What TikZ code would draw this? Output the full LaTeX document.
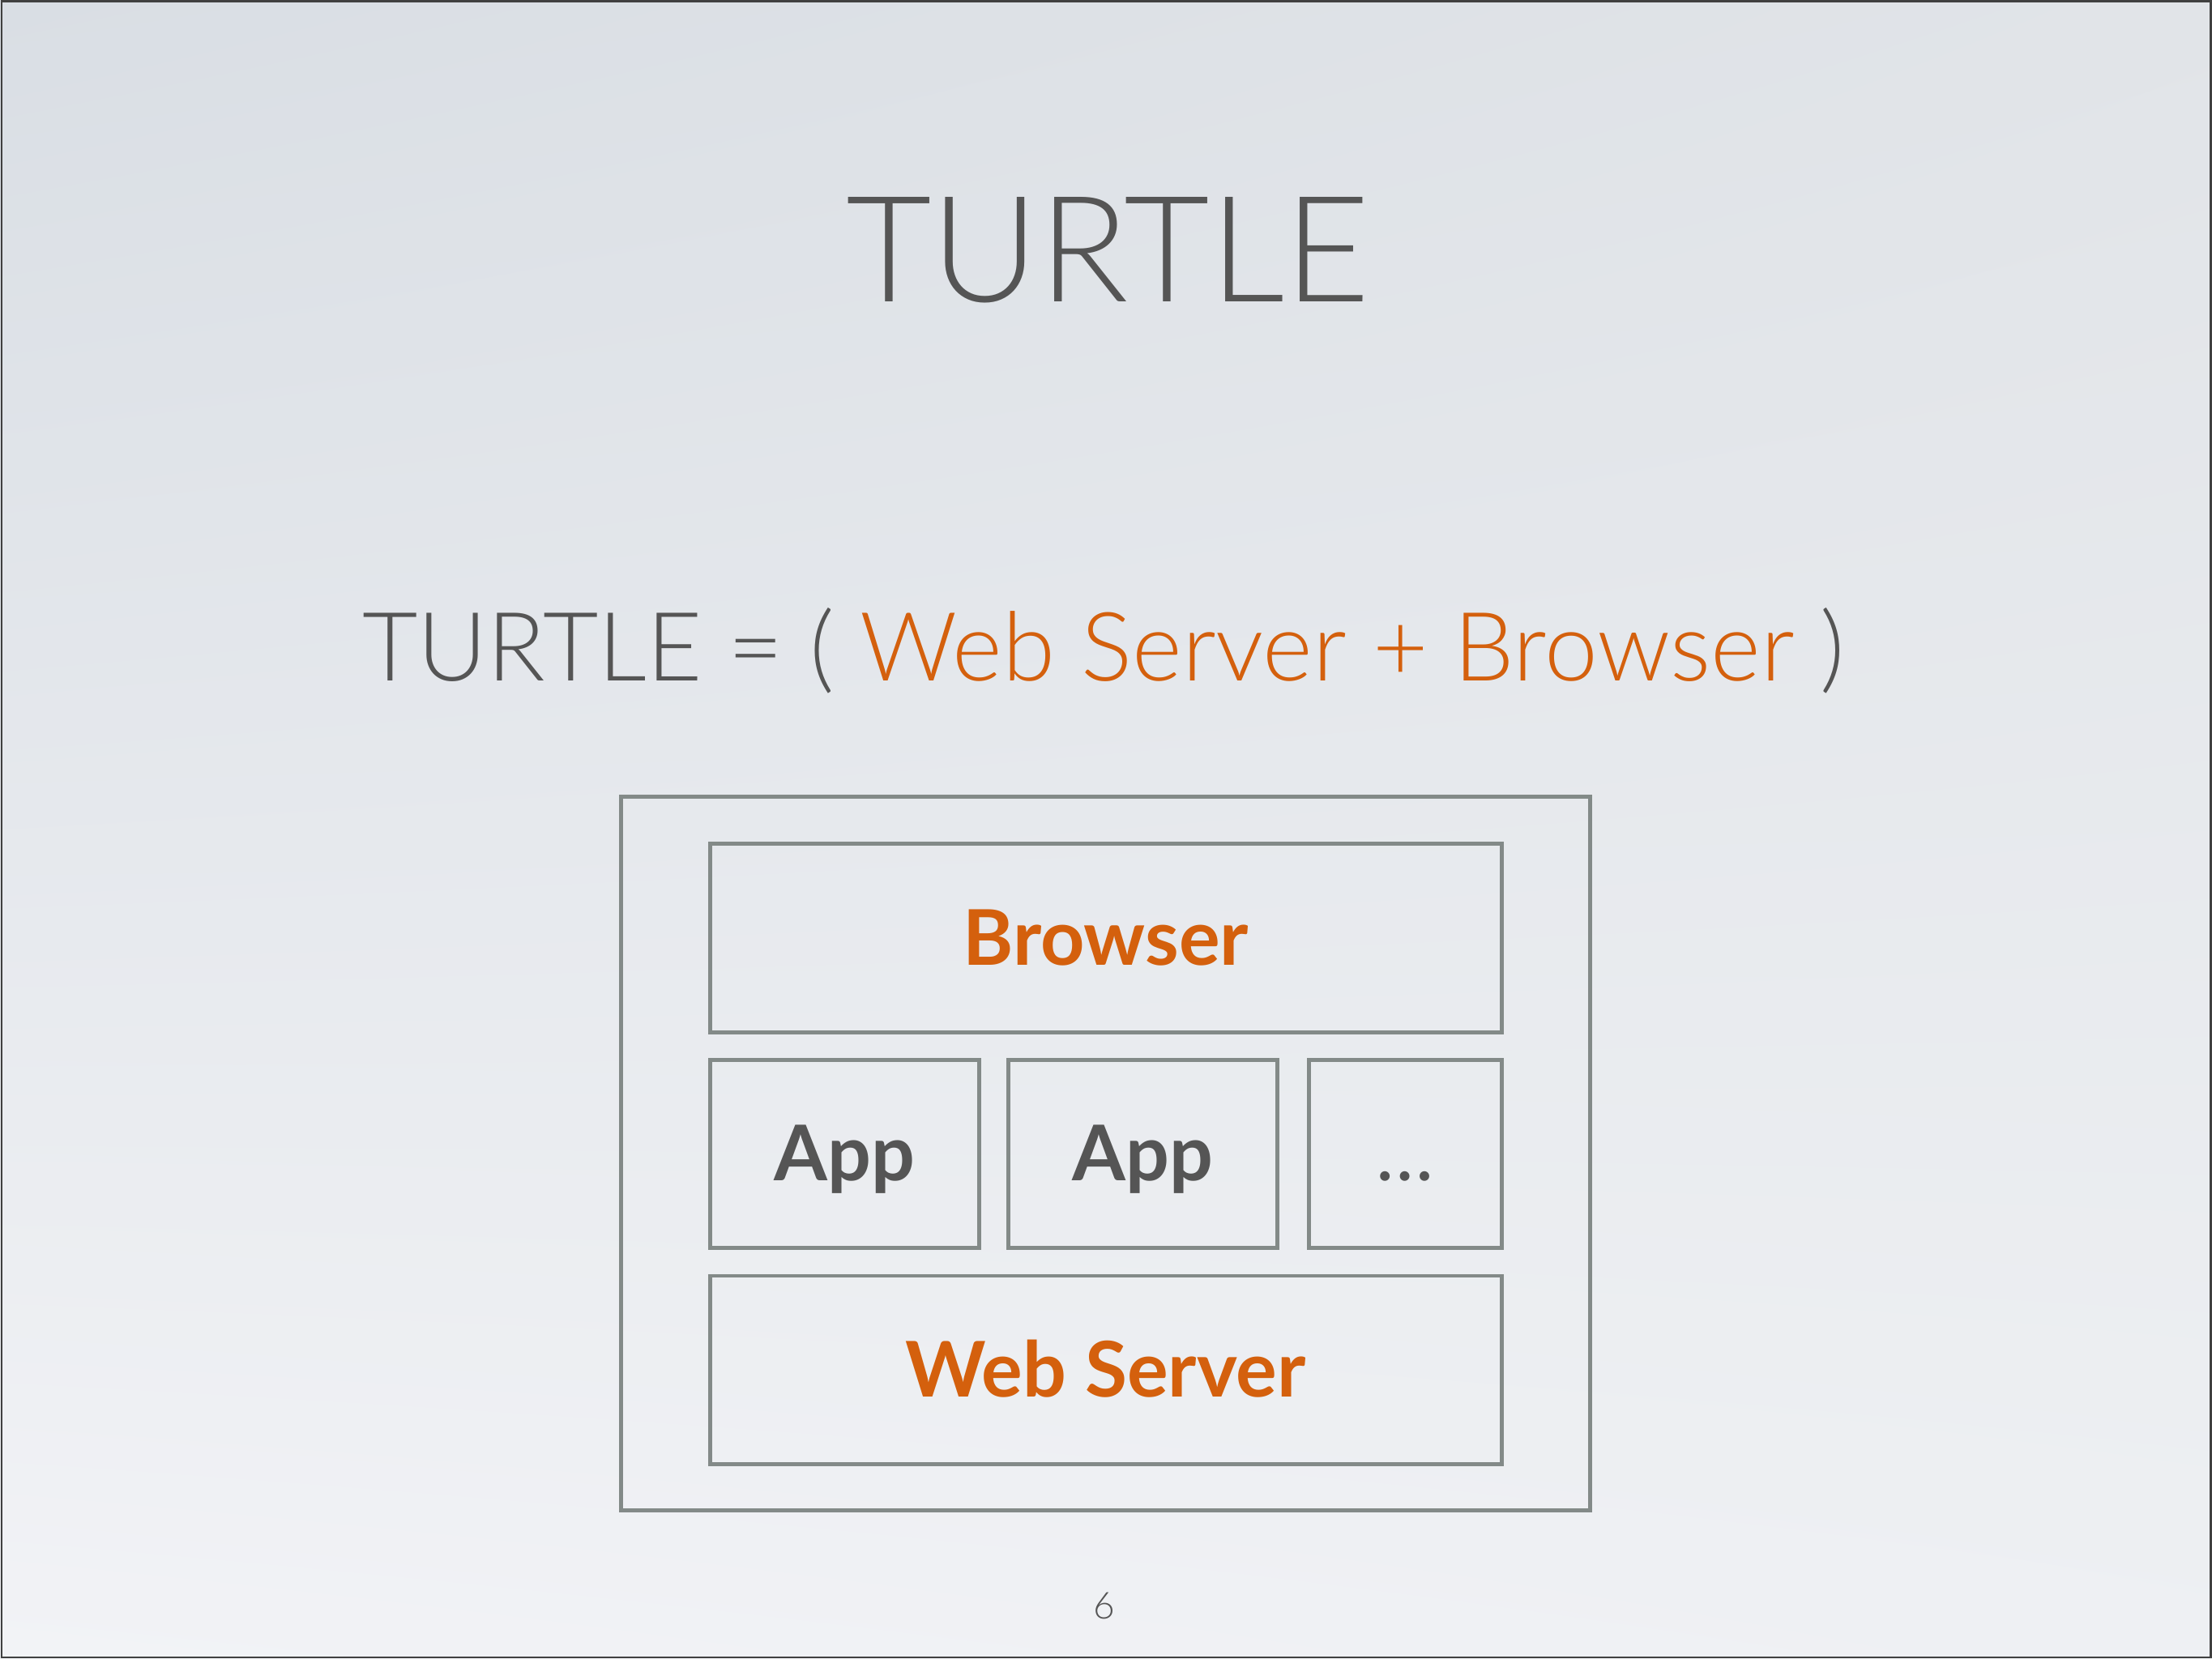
\documentclass[tikz,border=0pt]{standalone}
\usepackage{fontspec}
\setmainfont{Lato}
\newfontfamily\lightfont{Lato Light}
\usepackage{tikz}
\usetikzlibrary{shadings}
\definecolor{txtgray}{HTML}{555555}
\definecolor{orng}{HTML}{D4600D}
\definecolor{boxgray}{HTML}{838A88}
\definecolor{bgul}{RGB}{217,222,228}
\definecolor{bgur}{RGB}{225,228,232}
\definecolor{bgll}{RGB}{242,243,246}
\definecolor{bglr}{RGB}{238,240,243}
\begin{document}
\begin{tikzpicture}[layer/.style={draw=boxgray,line width=0.8pt,minimum height=1.335cm,inner sep=0pt,text depth=0pt,text height=0.38cm,font=\fontsize{15.5}{18}\selectfont\bfseries},label/.style={anchor=base,inner sep=0pt,text=txtgray}]
\useasboundingbox (0,0) rectangle (15.68,11.76);
\shade[upper left=bgul,upper right=bgur,lower left=bgll,lower right=bglr] (0,0) rectangle (15.68,11.76);
\draw[line width=0.4pt,black!75] (0.01,0.01) rectangle (15.67,11.75);
\node (tt) at (7.855,9.62)[label,font=\lightfont\fontsize{29.8}{36}\selectfont] {TURTLE};
\node (eq) at (7.825,6.935)[label,font=\lightfont\fontsize{19.3}{24}\selectfont] {TURTLE = ( \textcolor{orng}{Web Server + Browser} )};
\node (box) at (7.835,3.58)[draw=boxgray,line width=0.8pt,minimum width=6.87cm,minimum height=5.06cm] {};
\node (br) at (7.839,5.1085)[layer,minimum width=5.61cm,text=orng] {Browser};
\node (ap1) at (5.988,3.5785)[layer,minimum width=1.908cm,text=txtgray] {App};
\node (ap2) at (8.0995,3.5785)[layer,minimum width=1.907cm,text=txtgray] {App};
\node (dt) at (9.9605,3.5785)[layer,minimum width=1.367cm,text=txtgray,font=\fontsize{15.5}{18}\selectfont] {…};
\node (ws) at (7.839,2.045)[layer,minimum width=5.61cm,minimum height=1.338cm,text=orng] {Web Server};
\node (pg) at (7.83,0.284)[label,font=\lightfont\fontsize{7.5}{9}\selectfont] {6};
\end{tikzpicture}
\end{document}
